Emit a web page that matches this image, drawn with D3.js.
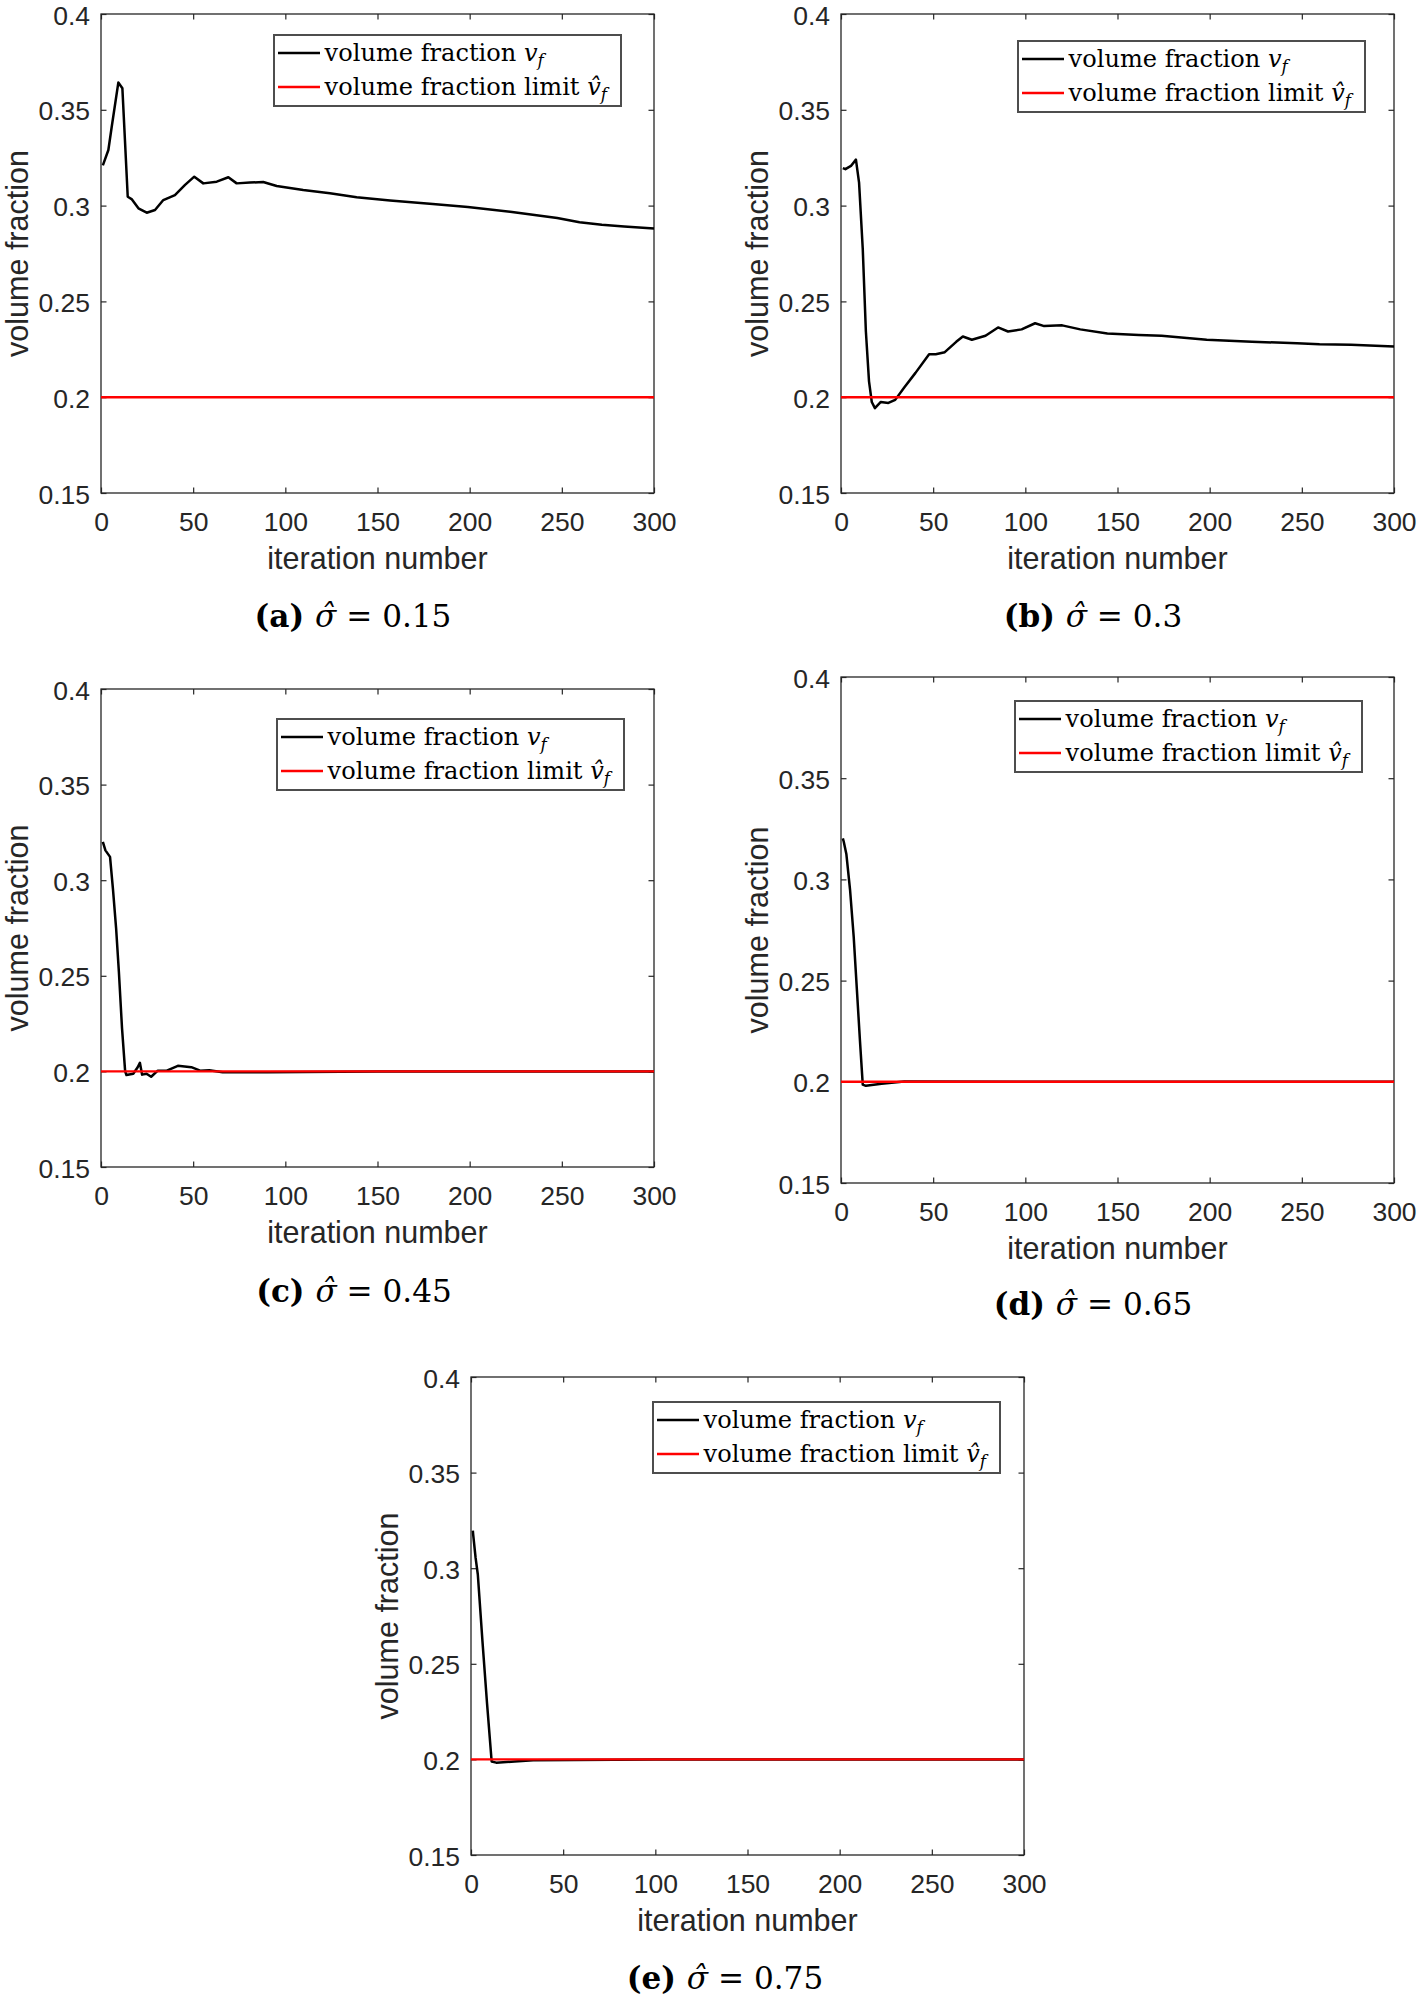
<!DOCTYPE html>
<html>
<head>
<meta charset="utf-8">
<script src="https://cdn.jsdelivr.net/npm/d3@7/dist/d3.min.js"></script>
<style>
  html, body { margin: 0; padding: 0; background: #fff; }
  svg { display: block; }
</style>
</head>
<body>
<svg id="chart" width="1419" height="2003"></svg>
<script>
// ---------------- DATA ----------------
const xTicks = [0, 50, 100, 150, 200, 250, 300];
const yTicks = [0.15, 0.2, 0.25, 0.3, 0.35, 0.4];
const yTickLabels = ["0.15", "0.2", "0.25", "0.3", "0.35", "0.4"];
const volumeFractionLimit = 0.2;

const iterA = [1, 4, 5.8, 9.4, 11.6, 13, 14.5, 16.6, 20.3, 24.8, 29.3, 33.8, 40.1, 45.6, 50.6, 55.5, 62.8, 69.1, 73.6, 80.8, 88, 95.3, 109.7, 124.2, 138.7, 156.8, 180, 199, 223, 247.5, 259.6, 271.7, 283.8, 300];
const vfA   = [0.321, 0.329, 0.341, 0.3642, 0.3612, 0.334, 0.3046, 0.3034, 0.2986, 0.2963, 0.2977, 0.3029, 0.3055, 0.3108, 0.3151, 0.3116, 0.3125, 0.3148, 0.3116, 0.312, 0.3123, 0.3102, 0.3081, 0.3064, 0.3043, 0.3026, 0.3008, 0.2993, 0.2967, 0.2935, 0.2913, 0.29, 0.2891, 0.288];

const iterB = [1, 2.4, 5.4, 8.1, 9.8, 11.8, 13.5, 15.2, 16.7, 18.4, 21.6, 25.7, 29.4, 34.3, 40.4, 47.8, 51.4, 56.3, 62.5, 66.1, 71, 78.4, 85.2, 90.6, 98, 105.3, 110.2, 120, 129.8, 144.5, 161.6, 173.9, 186.1, 198.4, 222.9, 247.4, 259.6, 276.7, 300];
const vfB   = [0.3196, 0.319, 0.3207, 0.324, 0.312, 0.2775, 0.2343, 0.2083, 0.1975, 0.1943, 0.1975, 0.197, 0.1986, 0.2051, 0.2127, 0.2224, 0.2224, 0.2235, 0.2289, 0.2317, 0.23, 0.2321, 0.2364, 0.2343, 0.2354, 0.2386, 0.2371, 0.2375, 0.2354, 0.2332, 0.2325, 0.2321, 0.231, 0.23, 0.2289, 0.2282, 0.2276, 0.2274, 0.2265];

const iterC = [1, 2.4, 4.9, 6.5, 8.2, 9.7, 11.4, 13.1, 13.8, 17.5, 19.9, 21.1, 22.3, 24.7, 27.2, 30.8, 35.7, 41.7, 49, 53.8, 58.7, 66, 90.2, 150, 300];
const vfC   = [0.3201, 0.3156, 0.3122, 0.2952, 0.2748, 0.2521, 0.2226, 0.2, 0.1981, 0.1988, 0.2022, 0.2045, 0.1983, 0.1988, 0.1972, 0.2004, 0.2004, 0.2029, 0.2022, 0.2004, 0.2006, 0.1995, 0.1996, 0.2, 0.2];

const iterD = [1, 1.5, 2.9, 4.9, 6.9, 8.6, 10.3, 11.8, 13.5, 22, 34.3, 100, 300];
const vfD   = [0.3203, 0.3186, 0.3126, 0.295, 0.2715, 0.2458, 0.2201, 0.1986, 0.198, 0.199, 0.2001, 0.2, 0.2];

const iterE = [1, 1.2, 2.5, 3.7, 6.2, 8.7, 11.2, 13.7, 23.7, 33.7, 100, 300];
const vfE   = [0.3196, 0.3174, 0.3054, 0.2967, 0.262, 0.2293, 0.1989, 0.1983, 0.1989, 0.1996, 0.2, 0.2];

const panelLetters = ["a", "b", "c", "d", "e"];
const sigmaValues = ["0.15", "0.3", "0.45", "0.65", "0.75"];
const seriesIters = [iterA, iterB, iterC, iterD, iterE];
const seriesValues = [vfA, vfB, vfC, vfD, vfE];

// ---------------- LAYOUT ----------------
const layout = [
  { left: 101, top: 14,   width: 553, height: 479, lx: 274,  ly: 35,   capX: 353,  capY: 627 },
  { left: 841, top: 14,   width: 553, height: 479, lx: 1018, ly: 41,   capX: 1093, capY: 627 },
  { left: 101, top: 689,  width: 553, height: 478, lx: 277,  ly: 719,  capX: 354,  capY: 1302 },
  { left: 841, top: 677,  width: 553, height: 506, lx: 1015, ly: 701,  capX: 1093, capY: 1315 },
  { left: 471, top: 1377, width: 553, height: 478, lx: 653,  ly: 1402, capX: 725,  capY: 1989 }
];

const axisColor = "#262626";
const sansFont = "'Liberation Sans', Arial, Helvetica, sans-serif";
const serifFont = "'DejaVu Serif', 'Liberation Serif', serif";
const tickFontSize = 26.5;
const titleFontSize = 30.5;
const tickLen = 5.5;

const svg = d3.select("#chart");
svg.append("rect").attr("width", 1419).attr("height", 2003).attr("fill", "#fff");

function measure(str, size, weight) {
  const t = svg.append("text").attr("font-family", serifFont).attr("font-size", size)
    .attr("font-weight", weight || "normal").text(str);
  const w = t.node().getComputedTextLength();
  t.remove();
  return w;
}
const legendFont = 24 * 255 / measure("volume fraction limit", 24);
const captionFont = 30 * 186 / (measure("(a) ", 30, "bold") + measure("σ̂ = 0.15", 30));

layout.forEach((L, i) => {
  const g = svg.append("g").attr("transform", `translate(${L.left},${L.top})`);
  const x = d3.scaleLinear().domain([0, 300]).range([0, L.width]);
  const y = d3.scaleLinear().domain([0.15, 0.4]).range([L.height, 0]);

  const axB = d3.axisBottom(x).tickValues(xTicks).tickSize(-tickLen).tickPadding(16).tickFormat(d3.format("d"));
  const axT = d3.axisTop(x).tickValues(xTicks).tickSize(-tickLen).tickFormat("");
  const axL = d3.axisLeft(y).tickValues(yTicks).tickSize(-tickLen).tickPadding(16)
    .tickFormat(d => yTickLabels[yTicks.indexOf(d)]);
  const axR = d3.axisRight(y).tickValues(yTicks).tickSize(-tickLen).tickFormat("");

  const gb = g.append("g").attr("transform", `translate(0,${L.height})`).call(axB);
  const gt = g.append("g").call(axT);
  const gl = g.append("g").call(axL);
  const gr = g.append("g").attr("transform", `translate(${L.width},0)`).call(axR);
  [gb, gt, gl, gr].forEach(a => {
    a.select(".domain").remove();
    a.selectAll(".tick line").attr("stroke", axisColor).attr("stroke-width", 1.2);
    a.selectAll("text").attr("fill", axisColor).attr("font-family", sansFont).attr("font-size", tickFontSize);
  });
  gb.selectAll(".tick text").attr("dy", null).attr("y", 38).attr("dominant-baseline", "auto");
  gl.selectAll(".tick text").attr("dy", null).attr("y", 10).attr("x", -11);

  g.append("rect").attr("x", 0).attr("y", 0).attr("width", L.width).attr("height", L.height)
    .attr("fill", "none").attr("stroke", axisColor).attr("stroke-width", 1.3);

  g.append("text").attr("x", L.width / 2).attr("y", L.height + 76).attr("text-anchor", "middle")
    .attr("font-family", sansFont).attr("font-size", titleFontSize).attr("fill", axisColor)
    .text("iteration number");
  g.append("text").attr("transform", `translate(-73,${L.height / 2}) rotate(-90)`)
    .attr("text-anchor", "middle").attr("font-family", sansFont).attr("font-size", titleFontSize)
    .attr("fill", axisColor).text("volume fraction");

  const pts = seriesIters[i].map((it, k) => [it, seriesValues[i][k]]);
  const line = d3.line().x(d => x(d[0])).y(d => y(d[1]));
  g.append("path").datum(pts).attr("d", line).attr("fill", "none")
    .attr("stroke", "#000").attr("stroke-width", 2.5).attr("stroke-linejoin", "round");

  g.append("path").datum([[0, volumeFractionLimit], [300, volumeFractionLimit]]).attr("d", line)
    .attr("fill", "none").attr("stroke", "#ff0000").attr("stroke-width", 2.4);

  const lg = svg.append("g").attr("transform", `translate(${L.lx},${L.ly})`);
  lg.append("rect").attr("width", 347).attr("height", 71).attr("fill", "#fff")
    .attr("stroke", "#4d4d4d").attr("stroke-width", 2);
  const rows = [
    { color: "#000", label: "volume fraction ", sym: "v", cy: 18 },
    { color: "#ff0000", label: "volume fraction limit ", sym: "v\u0302", cy: 52 }
  ];
  rows.forEach(r => {
    lg.append("line").attr("x1", 4).attr("x2", 46).attr("y1", r.cy).attr("y2", r.cy)
      .attr("stroke", r.color).attr("stroke-width", 2.6);
    const t = lg.append("text").attr("x", 50.6).attr("y", r.cy + 8)
      .attr("font-family", serifFont).attr("font-size", legendFont).attr("fill", "#000")
      .attr("xml:space", "preserve");
    t.append("tspan").text(r.label);
    t.append("tspan").attr("font-style", "italic").text(r.sym);
    t.append("tspan").attr("font-style", "italic").attr("font-size", legendFont * 0.7)
      .attr("dy", 5).text("f");
  });

  const c = svg.append("text").attr("x", L.capX).attr("y", L.capY).attr("text-anchor", "middle")
    .attr("font-family", serifFont).attr("font-size", captionFont).attr("fill", "#000")
    .attr("xml:space", "preserve");
  c.append("tspan").attr("font-weight", "bold").text(`(${panelLetters[i]}) `);
  c.append("tspan").attr("font-style", "italic").text("σ\u0302");
  c.append("tspan").text(` = ${sigmaValues[i]}`);
});
</script>
</body>
</html>
